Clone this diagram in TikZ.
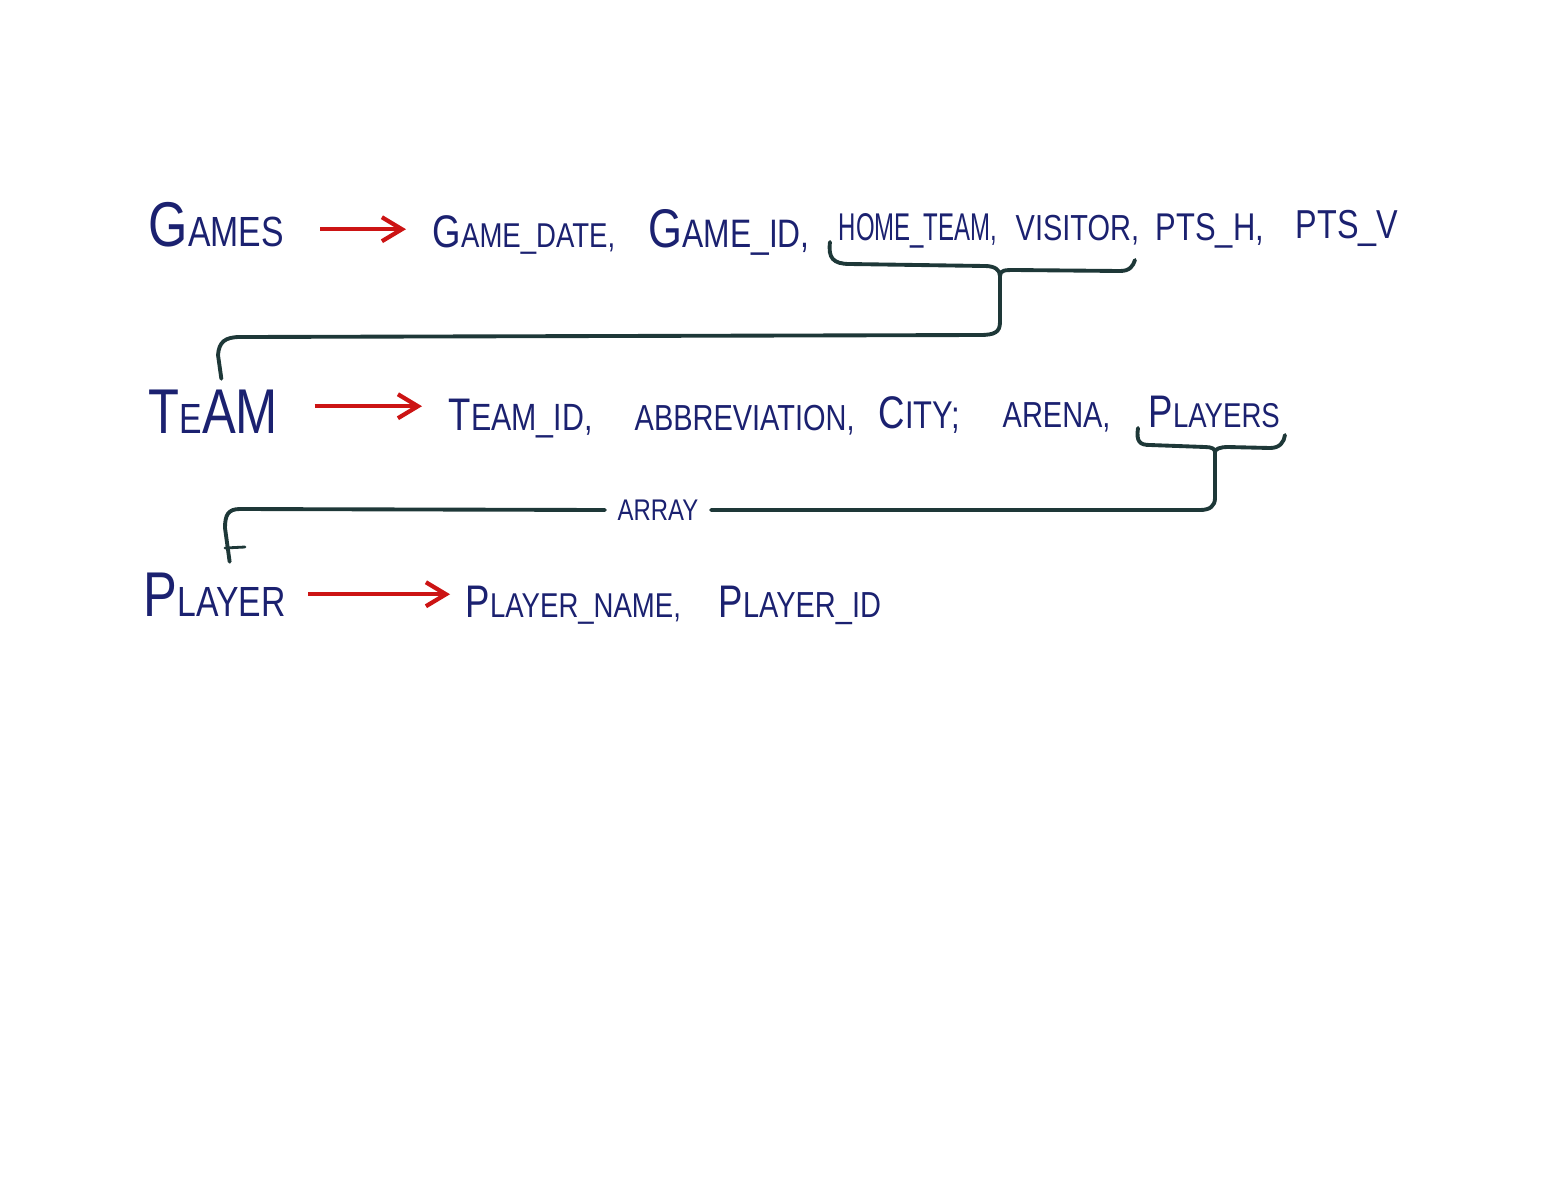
\documentclass[tikz,border=0pt]{standalone}
\usepackage{fontspec}
\setmainfont[FakeStretch=0.8]{Liberation Sans}
\newfontfamily\tight[FakeStretch=0.62]{Liberation Sans}
\usepackage{tikz}
\usetikzlibrary{arrows.meta, positioning}
\definecolor{ink}{HTML}{1B2170}
\definecolor{pen}{HTML}{1E3838}
\definecolor{marker}{HTML}{CC1414}
\newcommand{\Tl}[1]{{\fontsize{18}{18}\selectfont #1}}
\newcommand{\Fl}[1]{{\fontsize{13}{13}\selectfont #1}}

\begin{document}
\begin{tikzpicture}[>={Straight Barb[length=2mm,width=2.4mm]},
        title/.style={text=ink, font=\fontsize{12}{14}\selectfont, inner sep=0pt, anchor=base west},
        field/.style={text=ink, font=\fontsize{9.8}{12}\selectfont, inner sep=0pt, anchor=base west},
        plain/.style={text=ink, font=\fontsize{10.3}{12}\selectfont, inner sep=0pt, anchor=base west},
        link/.style={->, marker, line width=1.2pt, shorten <=3.6mm, shorten >=2.6mm},
        brace/.style={pen, line width=1.1pt, line cap=round, line join=round}]
        \useasboundingbox (0,0) rectangle (15.55,-11.8);
        % games row
        \node[title] (games) at (1.48,-2.46) {\Tl{G}AMES};
        \node[field] (gamedate) at (4.32,-2.47) {\Fl{G}AME\_DATE,};
        \node[field, font=\fontsize{11.3}{14}\selectfont] (gameid) at (6.48,-2.47) {{\fontsize{15.5}{15}\selectfont G}AME\_ID,};
        \node[plain, font=\tight\fontsize{11}{12}\selectfont] (hometeam) at (8.38,-2.40) {HOME\_TEAM,};
        \node[plain] (visitor) at (10.15,-2.40) {VISITOR,};
        \node[plain, font=\fontsize{11}{12}\selectfont] (ptsh) at (11.55,-2.40) {PTS\_H,};
        \node[plain, font=\fontsize{11.5}{12}\selectfont] (ptsv) at (12.95,-2.38) {PTS\_V};
        % team row
        \node[title] (team) at (1.48,-4.33) {\Tl{T}E\Tl{AM}};
        \node[field, font=\fontsize{10.8}{12}\selectfont] (teamid) at (4.48,-4.30) {\Fl{T}EAM\_ID,};
        \node[plain] (abbrev) at (6.34,-4.30) {ABBREVIATION,};
        \node[field, font=\fontsize{11}{12}\selectfont] (city) at (8.78,-4.28) {\Fl{C}ITY;};
        \node[plain] (arena) at (10.02,-4.27) {ARENA,};
        \node[field] (players) at (11.48,-4.27) {\Fl{P}LAYERS};
        % player row
        \node[title] (player) at (1.43,-6.16) {\Tl{P}LAYER};
        \node[field] (playername) at (4.65,-6.17) {\Fl{P}LAYER\_NAME,};
        \node[field, font=\fontsize{10.3}{12}\selectfont] (playerid) at (7.18,-6.17) {\Fl{P}LAYER\_ID};
        \node[field, font=\fontsize{8.5}{10}\selectfont, anchor=center, inner sep=1.2mm] (array) at (6.58,-5.10) {ARRAY};
        \coordinate (tip1) at (10.00,-2.76);
        \coordinate (tip2) at (12.15,-4.52);

        \draw[link] ([yshift=-0.5mm]games.east) -- ([yshift=-0.5mm]games.east -| gamedate.west);
        \draw[link] ([yshift=0.5mm]team.east) -- ([yshift=0.5mm]team.east -| teamid.west);
        \draw[link, shorten <=2.2mm, shorten >=1.5mm] (player.east) -- (player.east -| playername.west);

        % braces
        \draw[brace] (8.30,-2.42) .. controls (8.28,-2.58) and (8.33,-2.64) .. (8.50,-2.64)
            -- (9.85,-2.66) .. controls (9.95,-2.66) and (10.00,-2.70) .. (tip1)
            .. controls (10.00,-2.70) and (10.05,-2.70) .. (10.15,-2.70)
            -- (11.20,-2.71) .. controls (11.30,-2.71) and (11.33,-2.66) .. (11.35,-2.60);
        \draw[brace] (tip1) -- (10.00,-3.22) .. controls (10.00,-3.32) and (9.95,-3.35) .. (9.80,-3.35)
            -- (2.40,-3.37) .. controls (2.25,-3.37) and (2.19,-3.42) .. (2.18,-3.55)
            -- ([xshift=0.8mm,yshift=1mm]team.north);
        \draw[brace] (11.38,-4.28) .. controls (11.36,-4.42) and (11.40,-4.45) .. (11.50,-4.45)
            -- (12.05,-4.47) .. controls (12.12,-4.47) and (12.15,-4.49) .. (tip2)
            .. controls (12.15,-4.49) and (12.20,-4.47) .. (12.28,-4.47)
            -- (12.70,-4.48) .. controls (12.80,-4.48) and (12.84,-4.42) .. (12.85,-4.35);
        \draw[brace] (tip2) -- (12.15,-4.98) .. controls (12.15,-5.06) and (12.10,-5.10) .. (12.00,-5.10)
            -- (array.east);
        \draw[brace] (array.west) -- (2.40,-5.09) .. controls (2.28,-5.09) and (2.25,-5.15) .. (2.25,-5.28)
            -- ([xshift=1.5mm,yshift=1mm]player.north);
        \draw[brace, line width=0.8pt] (2.25,-5.48) -- (2.45,-5.47);
\end{tikzpicture}
\end{document}
